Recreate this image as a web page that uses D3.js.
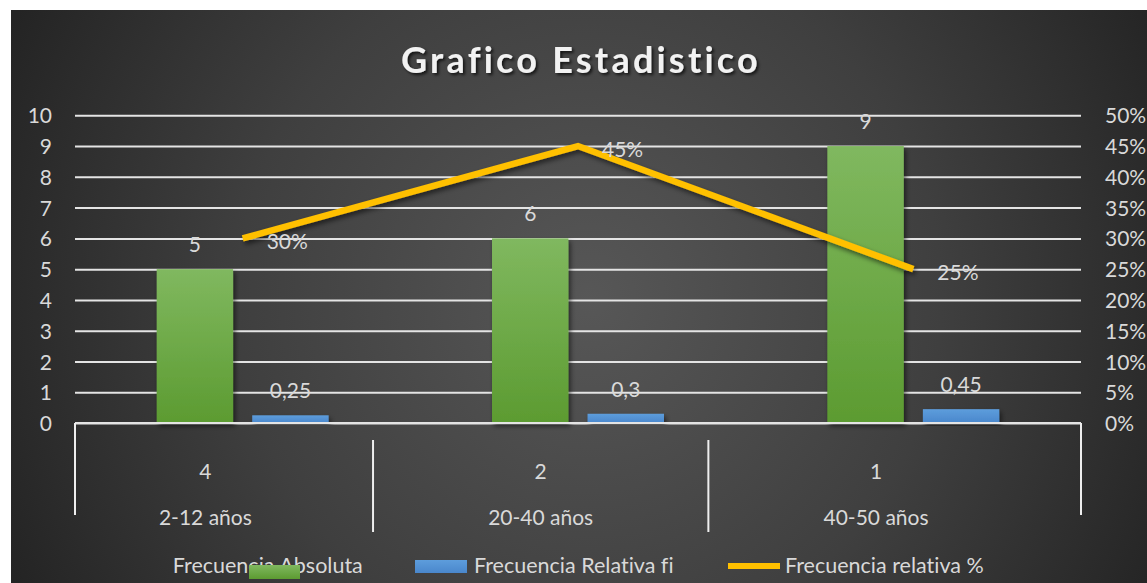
<!DOCTYPE html>
<html>
<head>
<meta charset="utf-8">
<script src="https://cdn.jsdelivr.net/npm/d3@7"></script>
<style>
  body { margin: 0; background: #fff; }
  svg text { font-family: Lato, "Open Sans", sans-serif; fill: #d9d9d9; font-variant-ligatures: none; }
</style>
</head>
<body>
<svg id="chart" width="1147" height="583"></svg>
<script>
// datos
var categorias = ["2-12 años", "20-40 años", "40-50 años"];
var niveles = ["4", "2", "1"];
var frecAbsoluta = [5, 6, 9];
var frecRelativaFi = [0.25, 0.3, 0.45];
var frecRelativaPct = [0.30, 0.45, 0.25];
var ticksIzq = [0, 1, 2, 3, 4, 5, 6, 7, 8, 9, 10];
var ticksDer = [0, 0.05, 0.1, 0.15, 0.2, 0.25, 0.3, 0.35, 0.4, 0.45, 0.5];
var series = ["Frecuencia Absoluta", "Frecuencia Relativa fi", "Frecuencia relativa %"];

var svg = d3.select("#chart");
var W = 1147, H = 583;
var plot = { left: 75, right: 1081, top: 115.3, bottom: 423 };

var es = d3.formatLocale({ decimal: ",", thousands: ".", grouping: [3], currency: ["", "€"] });
var fmtNum = es.format("~g");
var fmtPct = d3.format(".0%");

var defs = svg.append("defs");

var bg = defs.append("radialGradient").attr("id", "bg")
  .attr("gradientUnits", "userSpaceOnUse")
  .attr("cx", 590).attr("cy", 300).attr("r", 640);
bg.append("stop").attr("offset", "0%").attr("stop-color", "#575757");
bg.append("stop").attr("offset", "55%").attr("stop-color", "#3f3f3f");
bg.append("stop").attr("offset", "100%").attr("stop-color", "#242424");

var gGreen = defs.append("linearGradient").attr("id", "gGreen").attr("x1", 0).attr("y1", 0).attr("x2", 0).attr("y2", 1);
gGreen.append("stop").attr("offset", "0%").attr("stop-color", "#80b85f");
gGreen.append("stop").attr("offset", "100%").attr("stop-color", "#5c9b31");

var gBlue = defs.append("linearGradient").attr("id", "gBlue").attr("x1", 0).attr("y1", 0).attr("x2", 0).attr("y2", 1);
gBlue.append("stop").attr("offset", "0%").attr("stop-color", "#5d9ddc");
gBlue.append("stop").attr("offset", "100%").attr("stop-color", "#4a87cc");

var sh = defs.append("filter").attr("id", "sombra").attr("x", "-20%").attr("y", "-20%").attr("width", "140%").attr("height", "140%");
sh.append("feDropShadow").attr("dx", 2).attr("dy", 3).attr("stdDeviation", 2.5)
  .attr("flood-color", "#000").attr("flood-opacity", 0.55);

var shT = defs.append("filter").attr("id", "sombraT").attr("x", "-10%").attr("y", "-30%").attr("width", "120%").attr("height", "160%");
shT.append("feDropShadow").attr("dx", 2).attr("dy", 2).attr("stdDeviation", 1.5)
  .attr("flood-color", "#000").attr("flood-opacity", 0.7);

// fondo
svg.append("rect").attr("x", 11).attr("y", 10).attr("width", W - 11).attr("height", H - 10)
  .attr("fill", "url(#bg)");

// escalas
var x = d3.scaleBand().domain(categorias).range([plot.left, plot.right]).padding(0);
var xs = d3.scaleBand().domain([0, 1]).range([0, x.bandwidth()]).paddingInner(0.2).paddingOuter(0.855);
var y = d3.scaleLinear().domain([0, 10]).range([plot.bottom, plot.top]);
var y2 = d3.scaleLinear().domain([0, 0.5]).range([plot.bottom, plot.top]);

// titulo
svg.append("text").attr("x", 581).attr("y", 73).attr("text-anchor", "middle")
  .attr("font-size", 36).attr("font-weight", "bold").attr("letter-spacing", 3.2)
  .style("fill", "#f2f2f2").attr("filter", "url(#sombraT)")
  .text("Grafico Estadistico");

// rejilla
var gridG = svg.append("g")
  .call(d3.axisLeft(y).tickValues(ticksIzq).tickSize(-(plot.right - plot.left)).tickFormat(""))
  .attr("transform", "translate(" + plot.left + ",0)");
gridG.select(".domain").remove();
gridG.selectAll("line").attr("stroke", "#e4e4e4").attr("stroke-width", 2);

// ejes de texto
var axL = svg.append("g").attr("transform", "translate(" + plot.left + ",0)")
  .call(d3.axisLeft(y).tickValues(ticksIzq).tickSize(0).tickPadding(23));
axL.select(".domain").remove();
axL.selectAll("text").attr("font-size", 21).attr("dy", "0.36em");

var axR = svg.append("g").attr("transform", "translate(" + plot.right + ",0)")
  .call(d3.axisRight(y2).tickValues(ticksDer).tickSize(0).tickPadding(24).tickFormat(fmtPct));
axR.select(".domain").remove();
axR.selectAll("text").attr("font-size", 21).attr("dy", "0.36em");

// barras
var datos = categorias.map(function(c, i) {
  return { cat: c, vals: [frecAbsoluta[i], frecRelativaFi[i]] };
});
var fills = ["url(#gGreen)", "url(#gBlue)"];

var grupos = svg.append("g").selectAll("g").data(datos).join("g")
  .attr("transform", function(d) { return "translate(" + x(d.cat) + ",0)"; });

grupos.selectAll("rect").data(function(d) { return d.vals; }).join("rect")
  .attr("x", function(d, i) { return xs(i); })
  .attr("width", xs.bandwidth())
  .attr("y", function(d) { return y(d); })
  .attr("height", function(d) { return y(0) - y(d); })
  .attr("fill", function(d, i) { return fills[i]; })
  .attr("filter", "url(#sombra)");

grupos.selectAll("text").data(function(d) { return d.vals; }).join("text")
  .attr("x", function(d, i) { return xs(i) + xs.bandwidth() / 2; })
  .attr("y", function(d) { return y(d) - 17; })
  .attr("text-anchor", "middle").attr("font-size", 21)
  .text(function(d) { return fmtNum(d); });

// linea base
svg.append("line").attr("x1", plot.left).attr("x2", plot.right)
  .attr("y1", y(0)).attr("y2", y(0)).attr("stroke", "#e4e4e4").attr("stroke-width", 2);

// eje categorias multinivel
var shift = 37.3;
var x2 = d3.scaleBand().domain(categorias).range([plot.left - shift, plot.right - shift]);
var ejeG = svg.append("g");
ejeG.append("line").attr("x1", plot.left).attr("x2", plot.left).attr("y1", plot.bottom).attr("y2", 515)
  .attr("stroke", "#eee").attr("stroke-width", 2);
ejeG.append("line").attr("x1", plot.right).attr("x2", plot.right).attr("y1", plot.bottom).attr("y2", 515)
  .attr("stroke", "#eee").attr("stroke-width", 2);
ejeG.selectAll("line.div").data(categorias.slice(1)).join("line").attr("class", "div")
  .attr("x1", function(d) { return x2(d); }).attr("x2", function(d) { return x2(d); })
  .attr("y1", 440).attr("y2", 532).attr("stroke", "#eee").attr("stroke-width", 2);
ejeG.selectAll("text.niv").data(niveles).join("text").attr("class", "niv")
  .attr("x", function(d, i) { return x2(categorias[i]) + x2.bandwidth() / 2; })
  .attr("y", 479).attr("text-anchor", "middle").attr("font-size", 21)
  .text(function(d) { return d; });
ejeG.selectAll("text.cat").data(categorias).join("text").attr("class", "cat")
  .attr("x", function(d) { return x2(d) + x2.bandwidth() / 2; })
  .attr("y", 525).attr("text-anchor", "middle").attr("font-size", 21)
  .text(function(d) { return d; });

// linea porcentaje
var puntos = categorias.map(function(c, i) { return { cat: c, v: frecRelativaPct[i] }; });
var linea = d3.line()
  .x(function(d) { return x(d.cat) + x.bandwidth() / 2; })
  .y(function(d) { return y2(d.v); });
svg.append("path").datum(puntos).attr("d", linea)
  .attr("fill", "none").attr("stroke", "#ffc000").attr("stroke-width", 6.5)
  .attr("stroke-linejoin", "miter").attr("filter", "url(#sombra)");
svg.append("g").selectAll("text").data(puntos).join("text")
  .attr("x", function(d) { return x(d.cat) + x.bandwidth() / 2 + 24; })
  .attr("y", function(d) { return y2(d.v) + 10.5; })
  .attr("font-size", 21)
  .text(function(d) { return fmtPct(d.v); });

// leyenda
var leg = svg.append("g");
var legX = [172.8, 474, 785];
leg.selectAll("text").data(series).join("text")
  .attr("x", function(d, i) { return legX[i]; }).attr("y", 573).attr("font-size", 21.5)
  .text(function(d) { return d; });
leg.append("rect").attr("x", 249).attr("y", 565).attr("width", 51).attr("height", 14).attr("fill", "url(#gGreen)");
leg.append("rect").attr("x", 415).attr("y", 560).attr("width", 52).attr("height", 13).attr("fill", "url(#gBlue)");
leg.append("line").attr("x1", 728).attr("x2", 780).attr("y1", 566).attr("y2", 566)
  .attr("stroke", "#ffc000").attr("stroke-width", 6);
</script>
</body>
</html>
